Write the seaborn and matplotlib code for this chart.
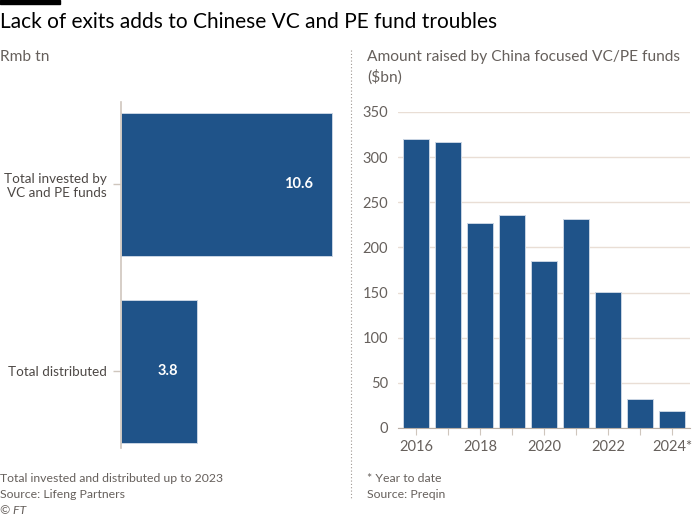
import matplotlib
matplotlib.use('Agg')
import matplotlib.pyplot as plt
import seaborn as sns
import pandas as pd

# ── Data ──────────────────────────────────────────────────────────────────
left_categories = ['Total invested by\nVC and PE funds', 'Total distributed']
left_values = [10.6, 3.8]

years = ['2016', '2017', '2018', '2019', '2020', '2021', '2022', '2023', '2024']
raised = [320, 317, 227, 236, 185, 231, 151, 32, 19]
year_labels = ['2016', '', '2018', '', '2020', '', '2022', '', '2024*']

# ── Style ─────────────────────────────────────────────────────────────────
sns.set_style('white')
plt.rcParams['font.family'] = ['Lato', 'DejaVu Sans']

BLUE = '#1f5389'
GREY = '#66605c'
GRID = '#e9ded5'

fig = plt.figure(figsize=(7, 5.22), dpi=100)

# ── Left: horizontal bars ─────────────────────────────────────────────────
left_df = pd.DataFrame({'cat': left_categories, 'val': left_values})
ax1 = fig.add_axes([0.1729, 0.1418, 0.3129, 0.6628])
sns.barplot(data=left_df, y='cat', x='val', orient='h', color=BLUE,
            saturation=1, width=0.765, edgecolor='#c9d5e3', linewidth=0.7, ax=ax1)
ax1.set_xlim(0, 11)
ax1.set_ylim(1.41, -0.44)
ax1.set_xlabel('')
ax1.set_ylabel('')
ax1.set_xticks([])
for s in ['top', 'right', 'bottom']:
    ax1.spines[s].set_visible(False)
ax1.spines['left'].set_color('#cfc6bd')
ax1.spines['left'].set_linewidth(1.2)
ax1.tick_params(axis='y', length=6, color='#cfc6bd', width=1, pad=4,
                labelsize=9.7, labelcolor='#4d4845', left=True)
for lbl in ax1.get_yticklabels():
    lbl.set_horizontalalignment('right')
for i, v in enumerate(left_values):
    ax1.annotate(f'{v:.1f}', xy=(v, i), xytext=(-13.5, 0), textcoords='offset points',
                 ha='right', va='center', color='white', fontsize=10.5,
                 fontweight='bold')

# ── Right: vertical bars ──────────────────────────────────────────────────
right_df = pd.DataFrame({'year': years, 'raised': raised})
ax2 = fig.add_axes([0.5686, 0.1801, 0.4171, 0.6054])
sns.barplot(data=right_df, x='year', y='raised', color=BLUE, saturation=1,
            width=0.81, edgecolor='#c9d5e3', linewidth=0.7, ax=ax2, zorder=3)
ax2.set_xlim(-0.56, 8.56)
ax2.set_ylim(0, 350)
ax2.set_yticks(range(0, 351, 50))
ax2.set_xticks(range(len(years)))
ax2.set_xticklabels(year_labels)
ax2.set_xlabel('')
ax2.set_ylabel('')
ax2.grid(axis='y', color=GRID, linewidth=1, zorder=0)
for s in ['top', 'right', 'left']:
    ax2.spines[s].set_visible(False)
ax2.spines['bottom'].set_color('#b8aea5')
ax2.spines['bottom'].set_zorder(4)
ax2.tick_params(axis='y', length=0, pad=7, labelsize=10.5, labelcolor=GREY)
ax2.tick_params(axis='x', length=5, color='#cfc6bd', pad=4, labelsize=10.5,
                labelcolor=GREY, bottom=True)

# ── Texts ─────────────────────────────────────────────────────────────────
fig.patches.append(plt.Rectangle((0, 1 - 4 / 522), 60 / 700, 4 / 522,
                                 transform=fig.transFigure, color='black'))
fig.text(0, 1 - 22 / 522, 'Lack of exits adds to Chinese VC and PE fund troubles',
         fontsize=15, color='black', va='center', ha='left')
fig.text(0, 1 - 57 / 522, 'Rmb tn', fontsize=11.2, color=GREY, va='center')
fig.text(367 / 700, 1 - 57 / 522, 'Amount raised by China focused VC/PE funds',
         fontsize=11.2, color=GREY, va='center')
fig.text(367 / 700, 1 - 77 / 522, '($bn)', fontsize=11.2, color=GREY, va='center')

fig.text(0, 1 - 478 / 522, 'Total invested and distributed up to 2023',
         fontsize=8.8, color=GREY, va='center')
fig.text(0, 1 - 494 / 522, 'Source: Lifeng Partners', fontsize=8.8, color=GREY,
         va='center')
fig.text(0, 1 - 511 / 522, '© FT', fontsize=8.8, color=GREY, va='center',
         style='italic')
fig.text(367 / 700, 1 - 478 / 522, '* Year to date', fontsize=8.8, color=GREY,
         va='center')
fig.text(367 / 700, 1 - 494 / 522, 'Source: Preqin', fontsize=8.8, color=GREY,
         va='center')

fig.add_artist(plt.Line2D([351 / 700, 351 / 700], [1 - 50 / 522, 1 - 500 / 522],
                          transform=fig.transFigure, color='#9e9690',
                          linewidth=0.8, linestyle=(0, (1, 2))))

fig.savefig('out.png', dpi=100, facecolor='white')
